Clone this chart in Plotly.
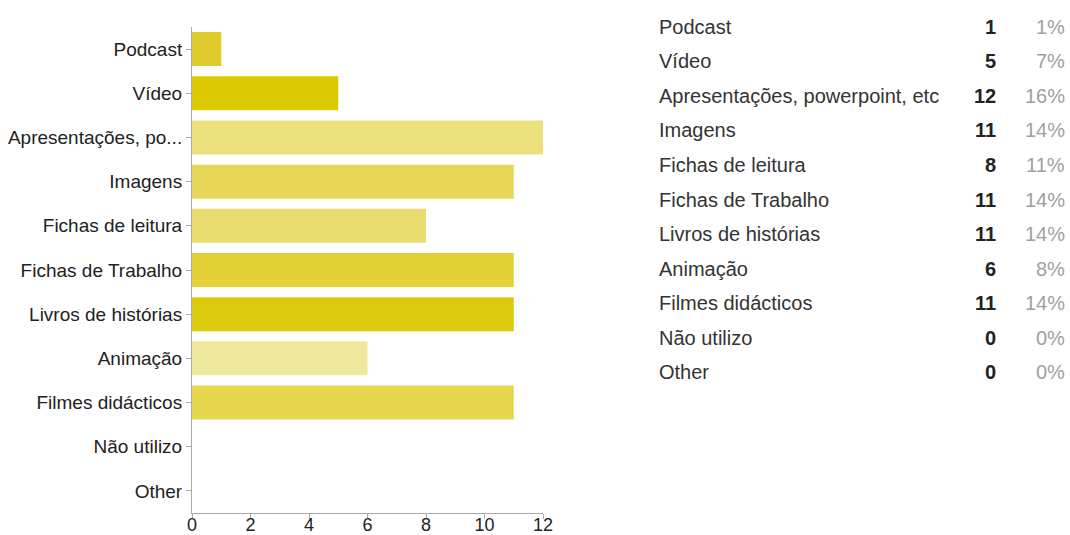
import plotly.graph_objects as go

categories = ["Podcast", "Vídeo", "Apresentações, powerpoint, etc", "Imagens",
              "Fichas de leitura", "Fichas de Trabalho", "Livros de histórias",
              "Animação", "Filmes didácticos", "Não utilizo", "Other"]
axis_labels = ["Podcast", "Vídeo", "Apresentações, po...", "Imagens",
               "Fichas de leitura", "Fichas de Trabalho", "Livros de histórias",
               "Animação", "Filmes didácticos", "Não utilizo", "Other"]
counts = [1, 5, 12, 11, 8, 11, 11, 6, 11, 0, 0]
percents = ["1%", "7%", "16%", "14%", "11%", "14%", "14%", "8%", "14%", "0%", "0%"]
bar_colors = ["#dfcc2c", "#dcc900", "#ebe07c", "#e6d758", "#e9dd70",
              "#e2d238", "#ddca0c", "#efe79c", "#e5d64e", "#e5d64e", "#e5d64e"]
x_ticks = [0, 2, 4, 6, 8, 10, 12]

W, H = 1070, 535
L, R_PX, T, B_PX = 192, 543, 27, 513

fig = go.Figure(go.Bar(
    x=counts, y=axis_labels, orientation="h",
    marker=dict(color=bar_colors, line=dict(width=0)),
    hoverinfo="x+y",
))

font = "Liberation Sans, Arial, sans-serif"
fig.update_layout(
    width=W, height=H,
    margin=dict(l=L, r=W - R_PX, t=T, b=H - B_PX, autoexpand=False),
    plot_bgcolor="white", paper_bgcolor="white",
    bargap=0.23, showlegend=False,
    font=dict(family=font, size=19, color="#222222"),
)
fig.update_xaxes(range=[0, 12], tickvals=x_ticks, showgrid=False, zeroline=False,
                 showline=True, linecolor="#aaaaaa", linewidth=1,
                 ticks="outside", ticklen=5, tickcolor="#aaaaaa", automargin=False,
                 ticklabelstandoff=-10,
                 tickfont=dict(size=18, color="#222222"), fixedrange=True)
fig.update_yaxes(autorange="reversed", showgrid=False, zeroline=False,
                 showline=True, linecolor="#aaaaaa", linewidth=1,
                 ticks="outside", ticklen=5, tickcolor="#aaaaaa", automargin=False,
                 tickfont=dict(size=19, color="#222222"), fixedrange=True)

pw = R_PX - L
ph = B_PX - T
label_x, count_x, pct_x = 657, 998, 1067
row0, row_step = 27, 34.5


def px_to_paper_x(px):
    return (px - L) / pw


def px_to_paper_y(py):
    return (B_PX - py) / ph


for i, (c, n, p) in enumerate(zip(categories, counts, percents)):
    y = px_to_paper_y(row0 + i * row_step)
    fig.add_annotation(x=px_to_paper_x(label_x), y=y, xref="paper", yref="paper",
                       text=c, showarrow=False, xanchor="left", yanchor="middle",
                       font=dict(family=font, size=20, color="#333333"))
    fig.add_annotation(x=px_to_paper_x(count_x), y=y, xref="paper", yref="paper",
                       text=f"<b>{n}</b>", showarrow=False, xanchor="right", yanchor="middle",
                       font=dict(family=font, size=20, color="#222222"))
    fig.add_annotation(x=px_to_paper_x(pct_x), y=y, xref="paper", yref="paper",
                       text=p, showarrow=False, xanchor="right", yanchor="middle",
                       font=dict(family=font, size=20, color="#a0a0a0"))

fig.write_html(
    "out.html",
    config={"displayModeBar": False},
    post_script="document.body.style.margin='0';document.body.style.overflow='hidden';",
)
